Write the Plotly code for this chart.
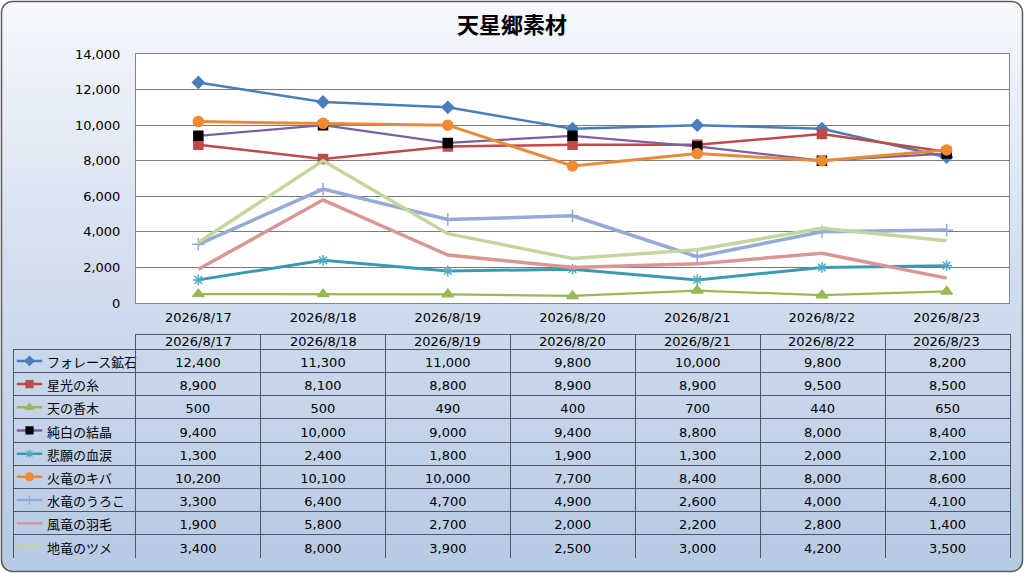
import base64
import plotly.graph_objects as go

dates = ["2026/8/17", "2026/8/18", "2026/8/19", "2026/8/20", "2026/8/21", "2026/8/22", "2026/8/23"]
names = ["フォレース鉱石", "星光の糸", "天の香木", "純白の結晶", "悲願の血涙",
         "火竜のキバ", "水竜のうろこ", "風竜の羽毛", "地竜のツメ"]
forace = [12400, 11300, 11000, 9800, 10000, 9800, 8200]
seikou = [8900, 8100, 8800, 8900, 8900, 9500, 8500]
kouboku = [500, 500, 490, 400, 700, 440, 650]
kesshou = [9400, 10000, 9000, 9400, 8800, 8000, 8400]
ketsurui = [1300, 2400, 1800, 1900, 1300, 2000, 2100]
kiba = [10200, 10100, 10000, 7700, 8400, 8000, 8600]
uroko = [3300, 6400, 4700, 4900, 2600, 4000, 4100]
umou = [1900, 5800, 2700, 2000, 2200, 2800, 1400]
tsume = [3400, 8000, 3900, 2500, 3000, 4200, 3500]
series = [forace, seikou, kouboku, kesshou, ketsurui, kiba, uroko, umou, tsume]

# styles: line color, marker color, symbol, marker size, line width
styles = [
    ("#4a7ebb", "#4a7ebb", "diamond", 9, 2.5),
    ("#be4b48", "#be4b48", "square", 9, 2.5),
    ("#98b954", "#98b954", "triangle-up", 10, 2.25),
    ("#7d60a0", "#000000", "square", 9, 2.25),
    ("#3a9bb0", "#4bacc6", "asterisk-open", 9, 3),
    ("#e98a3a", "#f08a30", "circle", 10, 3),
    ("#93abd6", "#93abd6", "cross-thin-open", 9, 3.5),
    ("#d99694", "#d99694", None, 0, 3.5),
    ("#c3d69b", "#c3d69b", None, 0, 3.5),
]

FONT = "DejaVu Sans, Noto Sans CJK JP"
CJK = "Noto Sans CJK JP"
W, H = 1024, 573

fig = go.Figure()

# main lines
for nm, vals, (lc, mc, sym, ms, lw) in zip(names, series, styles):
    fig.add_trace(go.Scatter(
        x=dates, y=vals, name=nm,
        mode="lines+markers" if sym else "lines",
        line=dict(color=lc, width=lw),
        marker=dict(symbol=sym or "circle", size=ms, color=mc,
                    line=dict(color=mc, width=1.5)),
        showlegend=False, hoverinfo="x+y+name"))

# legend keys drawn in first table column
for i, (lc, mc, sym, ms, lw) in enumerate(styles):
    fig.add_trace(go.Scatter(
        x=[0, 0.5, 1], y=[i, i, i], xaxis="x2", yaxis="y2",
        mode="lines+markers" if sym else "lines",
        line=dict(color=lc, width=2.5),
        marker=dict(symbol=sym or "circle", size=max(ms - 2, 1), color=mc,
                    opacity=[0, 1, 0], line=dict(color=mc, width=1.2)),
        showlegend=False, hoverinfo="skip"))

# data table under the chart (header text is put on as annotations below)
grid = "#4f5863"
fig.add_trace(go.Table(
    domain=dict(x=[13 / W, 1010 / W], y=[1 - 558 / H, 1 - 334 / H]),
    columnwidth=[122.5] + [124.9] * 7,
    header=dict(values=[""] * (len(dates) + 1), height=15.3,
                fill=dict(color="rgba(0,0,0,0)"),
                line=dict(color=["rgba(0,0,0,0)"] + [grid] * 7, width=1)),
    cells=dict(values=[["\u3000\u3000" + n for n in names]] +
               [[f"{s[j]:,}" for s in series] for j in range(len(dates))],
               height=23.2,
               fill=dict(color="rgba(0,0,0,0)"),
               line=dict(color=grid, width=1),
               font=dict(family=[CJK] + [FONT] * 7, size=13, color="black"),
               align=["left"] + ["center"] * 7)))

header_notes = [dict(text=d, x=d, xref="x", y=1 - 341 / H, yref="paper",
                     showarrow=False, yanchor="middle",
                     font=dict(family=FONT, size=13, color="black")) for d in dates]

# background: rounded frame with vertical gradient
svg = f"""<svg xmlns="http://www.w3.org/2000/svg" width="{W}" height="{H}" viewBox="0 0 {W} {H}" preserveAspectRatio="none">
<defs><linearGradient id="g" x1="0" y1="0" x2="0" y2="1">
<stop offset="0" stop-color="#f6f8fc"/><stop offset="0.5" stop-color="#d0dcee"/>
<stop offset="1" stop-color="#b7cae4"/></linearGradient></defs>
<rect x="1.5" y="1.5" width="{W - 3}" height="{H - 3}" rx="11" ry="11" fill="url(#g)" stroke="#5c5c5c" stroke-width="1.5"/>
</svg>"""
bg_src = "data:image/svg+xml;base64," + base64.b64encode(svg.encode()).decode()

fig.update_layout(
    width=W, height=H, autosize=False, showlegend=False,
    margin=dict(l=0, r=0, t=0, b=0, pad=0, autoexpand=False),
    paper_bgcolor="white", plot_bgcolor="white",
    font=dict(family=FONT, size=13, color="black"),
    title=dict(text="<b>天星郷素材</b>", x=0.5, xanchor="center", y=1 - 25 / H, yanchor="middle",
               font=dict(family=CJK, size=22, color="black"), automargin=False),
    annotations=header_notes,
    images=[dict(source=bg_src, xref="paper", yref="paper", x=0, y=1, sizex=1, sizey=1,
                 xanchor="left", yanchor="top", sizing="stretch", layer="below")],
    shapes=[dict(type="rect", xref="x domain", yref="y domain", x0=0, x1=1, y0=0, y1=1,
                 fillcolor="white", line=dict(width=0), layer="below")],
    xaxis=dict(domain=[136 / W, 1009 / W], type="category", range=[-0.5, 6.5], automargin=False,
               showgrid=False, showline=True, linecolor="#868686", linewidth=1, mirror=True,
               ticks="", ticklabelstandoff=2, tickfont=dict(size=13)),
    yaxis=dict(domain=[1 - 303 / H, 1 - 54 / H], range=[0, 14000], dtick=2000, automargin=False,
               tickformat=",d", showgrid=True, gridcolor="#7a7a7a", gridwidth=1,
               zeroline=False, showline=True, linecolor="#868686", linewidth=1, mirror=True,
               ticks="", ticklabelstandoff=12, tickfont=dict(size=13)),
    xaxis2=dict(domain=[16.5 / W, 42.5 / W], range=[0, 1], visible=False, anchor="y2", automargin=False),
    yaxis2=dict(domain=[1 - 558 / H, 1 - 349.3 / H], range=[8.5, -0.5], visible=False, anchor="x2",
                automargin=False),
)

fig.write_html("out.html", config={"responsive": False, "displayModeBar": False},
               post_script="document.body.style.margin='0';document.body.style.overflow='hidden';")
